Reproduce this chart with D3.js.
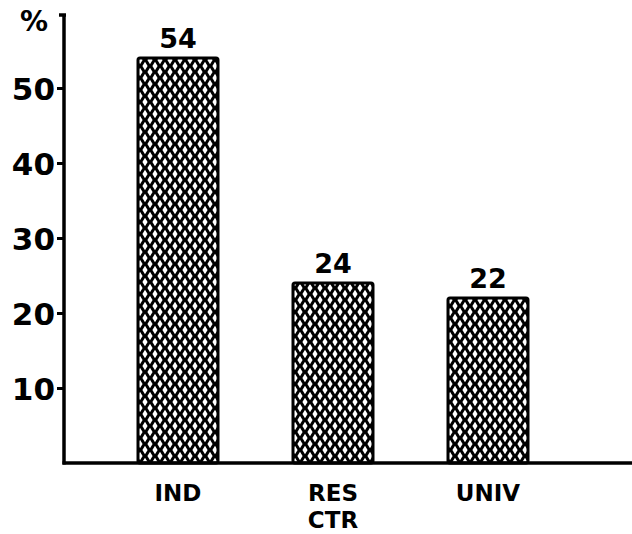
<!DOCTYPE html>
<html><head><meta charset="utf-8">
<script src="https://cdn.jsdelivr.net/npm/d3@7"></script>
<style>body{margin:0;background:#fff}svg{display:block}text{font-family:"DejaVu Sans",sans-serif;font-weight:bold;fill:#000}</style>
</head><body>
<svg id="c" width="632" height="534"></svg>
<script>
const categories = ["IND", "RES CTR", "UNIV"];
const values = [54, 24, 22];
const yTicks = [10, 20, 30, 40, 50];

const svg = d3.select("#c");
const x0 = 64, y0 = 463;
const y = d3.scaleLinear().domain([0, 60]).range([y0, y0 - 450]);
const x = d3.scaleBand().domain(categories).range([100.5, 565.5]).paddingInner(75/155).paddingOuter(75/310);

const defs = svg.append("defs");
const pat = defs.append("pattern").attr("id","hatch").attr("patternUnits","userSpaceOnUse")
  .attr("width",10).attr("height",12).attr("x",0).attr("y",0);
pat.append("rect").attr("width",10).attr("height",12).attr("fill","#000");
const dia = (cx,cy)=>`M${cx},${cy-4.3}L${cx+2.6},${cy}L${cx},${cy+4.3}L${cx-2.6},${cy}Z`;
pat.append("path").attr("fill","#fff")
  .attr("d", dia(5,6)+dia(0,0)+dia(10,0)+dia(0,12)+dia(10,12));

// bars
svg.selectAll("rect.bar").data(values).join("rect").attr("class","bar")
  .attr("x",(d,i)=>x(categories[i])).attr("width",x.bandwidth())
  .attr("y",d=>y(d)).attr("height",d=>y0-y(d))
  .attr("fill","url(#hatch)").attr("stroke","#000").attr("stroke-width",3).attr("rx",2);

// value labels
svg.selectAll("text.val").data(values).join("text").attr("class","val")
  .attr("x",(d,i)=>x(categories[i])+x.bandwidth()/2).attr("y",d=>y(d)-10)
  .attr("text-anchor","middle").attr("font-size",27).text(d=>d);

// y axis
const yAxis = d3.axisLeft(y).tickValues(yTicks).tickSize(7).tickPadding(2).tickFormat(d3.format("d"));
const ga = svg.append("g").attr("transform",`translate(${x0},0)`).call(yAxis);
ga.select(".domain").remove();
ga.selectAll(".tick line").attr("stroke","#000").attr("stroke-width",3);
ga.selectAll(".tick text").attr("font-size",31).attr("font-family","DejaVu Sans, sans-serif").attr("font-weight","bold").attr("fill","#000").attr("dy","0.36em");
svg.append("line").attr("x1",x0).attr("x2",x0).attr("y1",y0+1.5).attr("y2",15).attr("stroke","#000").attr("stroke-width",3.5);
svg.append("line").attr("x1",x0-5).attr("x2",x0+2).attr("y1",15).attr("y2",15).attr("stroke","#000").attr("stroke-width",3.5);
svg.append("text").attr("x",34).attr("y",31).attr("text-anchor","middle").attr("font-size",28).text("%");

// x axis
svg.append("line").attr("x1",x0-1.5).attr("x2",632).attr("y1",y0).attr("y2",y0).attr("stroke","#000").attr("stroke-width",3.5);

// category labels
categories.forEach((c)=>{
  const parts = c.split(" ");
  parts.forEach((p,j)=>svg.append("text").attr("text-anchor","middle").attr("font-size",23)
    .attr("x", x(c)+x.bandwidth()/2).attr("y", 501 + j*27).text(p));
});
</script>
</body></html>
